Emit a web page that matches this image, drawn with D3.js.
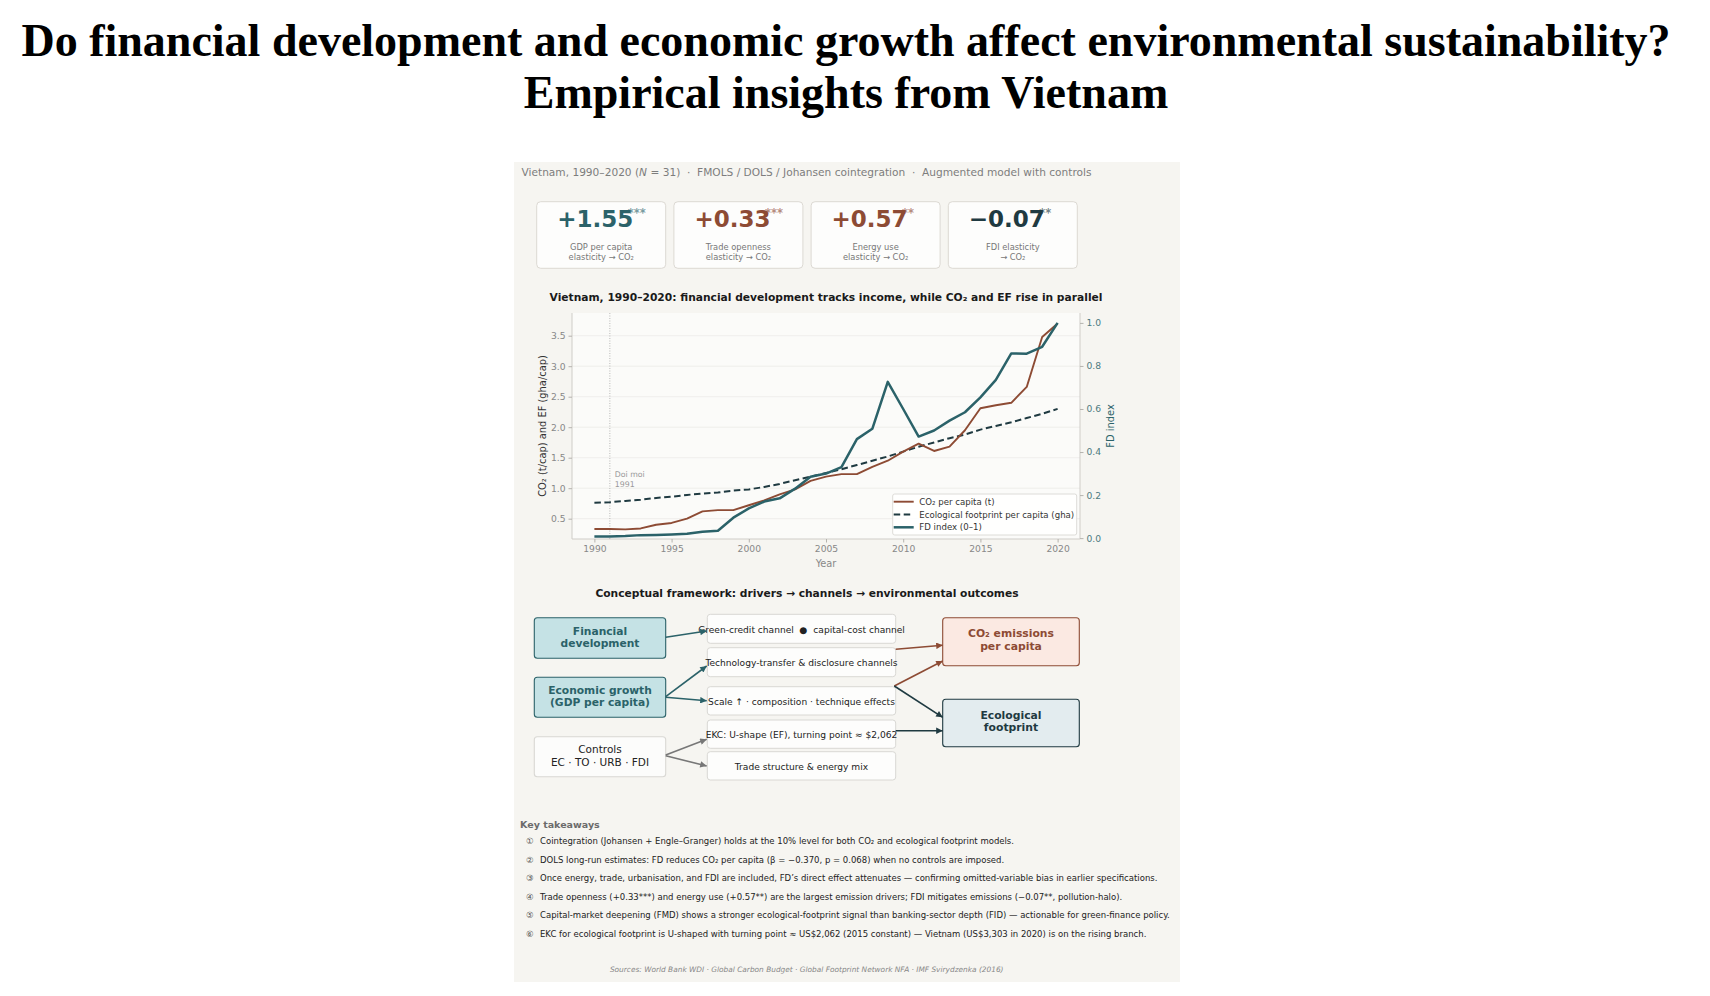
<!DOCTYPE html>
<html>
<head>
  <meta http-equiv="Content-Type" content="text/html; charset=utf-8"/>
  <title>Financial development, growth and environment in Vietnam</title>
  <script src="https://d3js.org/d3.v7.min.js"></script>
  <style>
    html, body { margin: 0; padding: 0; background: #fff; overflow: hidden; }
    svg { display: block; }
    text { font-family: "DejaVu Sans", sans-serif; white-space: pre; }
  </style>
</head>
<body>
<svg id="page"></svg>
<script>

// --- data ---
const years = [1990, 1991, 1992, 1993, 1994, 1995, 1996, 1997, 1998, 1999,
               2000, 2001, 2002, 2003, 2004, 2005, 2006, 2007, 2008, 2009,
               2010, 2011, 2012, 2013, 2014, 2015, 2016, 2017, 2018, 2019, 2020];
const co2 = [0.33, 0.33, 0.325, 0.34, 0.40, 0.43, 0.50, 0.62, 0.64, 0.64,
             0.72, 0.80, 0.90, 0.98, 1.12, 1.19, 1.23, 1.23, 1.35, 1.45,
             1.60, 1.73, 1.61, 1.68, 1.95, 2.31, 2.36, 2.40, 2.66, 3.48, 3.70];
const ef = [0.76, 0.77, 0.79, 0.81, 0.84, 0.86, 0.89, 0.91, 0.93, 0.96,
            0.98, 1.02, 1.07, 1.13, 1.19, 1.25, 1.31, 1.38, 1.45, 1.52,
            1.60, 1.68, 1.75, 1.82, 1.88, 1.96, 2.02, 2.08, 2.15, 2.22, 2.30];
const fdIndex = [0.008, 0.008, 0.010, 0.014, 0.015, 0.017, 0.020, 0.030, 0.034, 0.095,
                 0.138, 0.170, 0.185, 0.230, 0.285, 0.300, 0.330, 0.460, 0.508, 0.726,
                 0.600, 0.472, 0.500, 0.546, 0.585, 0.654, 0.735, 0.858, 0.857, 0.889, 1.000];

const leftTicks = [0.5, 1.0, 1.5, 2.0, 2.5, 3.0, 3.5];
const rightTicks = [0.0, 0.2, 0.4, 0.6, 0.8, 1.0];
const yearTicks = [1990, 1995, 2000, 2005, 2010, 2015, 2020];

const kpiValues = ["+1.55", "+0.33", "+0.57", "\u22120.07"];
const kpiStars = ["***", "***", "**", "**"];
const kpiLabels = [
  ["GDP per capita", "elasticity \u2192 CO\u2082"],
  ["Trade openness", "elasticity \u2192 CO\u2082"],
  ["Energy use", "elasticity \u2192 CO\u2082"],
  ["FDI elasticity", "\u2192 CO\u2082"]
];

const channelLabels = [
  "Green-credit channel  \u25cf  capital-cost channel",
  "Technology-transfer & disclosure channels",
  "Scale \u2191 \u00b7 composition \u00b7 technique effects",
  "EKC: U-shape (EF), turning point \u2248 $2,062",
  "Trade structure & energy mix"
];

const takeaways = [
  "Cointegration (Johansen + Engle\u2013Granger) holds at the 10% level for both CO\u2082 and ecological footprint models.",
  "DOLS long-run estimates: FD reduces CO\u2082 per capita (\u03b2 = \u22120.370, p = 0.068) when no controls are imposed.",
  "Once energy, trade, urbanisation, and FDI are included, FD\u2019s direct effect attenuates \u2014 confirming omitted-variable bias in earlier specifications.",
  "Trade openness (+0.33***) and energy use (+0.57**) are the largest emission drivers; FDI mitigates emissions (\u22120.07**, pollution-halo).",
  "Capital-market deepening (FMD) shows a stronger ecological-footprint signal than banking-sector depth (FID) \u2014 actionable for green-finance policy.",
  "EKC for ecological footprint is U-shaped with turning point \u2248 US$2,062 (2015 constant) \u2014 Vietnam (US$3,303 in 2020) is on the rising branch."
];
const circled = ["\u2460", "\u2461", "\u2462", "\u2463", "\u2464", "\u2465"];

// --- colours ---
const teal = "#2b6269";
const brown = "#8d4b34";
const dark = "#1f3a41";

const svg = d3.select("#page")
    .attr("width", 1710)
    .attr("height", 996);

// page title
const title = svg.append("g")
    .attr("font-weight", "bold")
    .attr("font-size", 46)
    .attr("text-anchor", "middle");
title.append("text").attr("x", 846).attr("y", 56)
    .style("font-family", "'Liberation Serif', serif")
    .text("Do financial development and economic growth affect environmental sustainability?");
title.append("text").attr("x", 846).attr("y", 108)
    .style("font-family", "'Liberation Serif', serif")
    .text("Empirical insights from Vietnam");

// panel
svg.append("rect")
    .attr("x", 514).attr("y", 162)
    .attr("width", 666).attr("height", 820)
    .attr("fill", "#f6f5f1");

// header line
const header = svg.append("text")
    .attr("x", 521.5).attr("y", 175.5)
    .attr("font-size", 10.6)
    .attr("fill", "#7d7d7d");
header.append("tspan").text("Vietnam, 1990\u20132020 (");
header.append("tspan").attr("font-style", "italic").text("N");
header.append("tspan").text(" = 31)  \u00b7  FMOLS / DOLS / Johansen cointegration  \u00b7  Augmented model with controls");

// KPI cards
const kpiColors = [teal, brown, brown, dark];
const cards = svg.append("g").selectAll("g")
    .data(kpiValues)
    .join("g")
    .attr("transform", (d, i) => `translate(${536.7 + i * 137.2},201.7)`);

cards.append("rect")
    .attr("width", 129).attr("height", 66.6)
    .attr("rx", 4)
    .attr("fill", "#fdfdfc")
    .attr("stroke", "#dcd9d3")
    .attr("stroke-width", 1);

// number with its significance stars tucked against the last digit
cards.append("text")
    .attr("y", 25)
    .attr("font-weight", "bold")
    .attr("fill", (d, i) => kpiColors[i])
    .each(function(d, i) {
      const t = d3.select(this);
      const num = t.append("tspan").attr("font-size", 23).text(d);
      const w = num.node().getComputedTextLength();
      const numCenter = 64.5 - 6;
      t.attr("x", numCenter - w / 2);
      t.append("tspan")
          .attr("dx", (64.5 + 26.5) - (numCenter + w / 2))
          .attr("dy", -10)
          .attr("font-size", 11.5)
          .attr("fill-opacity", 0.65)
          .text(kpiStars[i]);
    });

cards.each(function(d, i) {
  const g = d3.select(this);
  kpiLabels[i].forEach((line, j) => {
    g.append("text")
        .attr("x", 64.5).attr("y", 48.5 + j * 10)
        .attr("text-anchor", "middle")
        .attr("font-size", 8.3)
        .attr("fill", "#777")
        .text(line);
  });
});

// --- time series chart ---
const plot = { left: 572, right: 1080, top: 313, bottom: 539 };

const x = d3.scaleLinear()
    .domain([1988.55, 2021.45])
    .range([plot.left, plot.right]);
const yLeft = d3.scaleLinear()
    .domain([0.167, 3.872])
    .range([plot.bottom, plot.top]);
const yRight = d3.scaleLinear()
    .domain([-0.004, 1.046])
    .range([plot.bottom, plot.top]);

svg.append("text")
    .attr("x", (plot.left + plot.right) / 2).attr("y", 300.7)
    .attr("text-anchor", "middle")
    .attr("font-size", 10.7)
    .attr("font-weight", "bold")
    .attr("fill", "#1a1a1a")
    .text("Vietnam, 1990\u20132020: financial development tracks income, while CO\u2082 and EF rise in parallel");

svg.append("rect")
    .attr("x", plot.left).attr("y", plot.top)
    .attr("width", plot.right - plot.left).attr("height", plot.bottom - plot.top)
    .attr("fill", "#fbfbf9");

// gridlines
svg.append("g").selectAll("line")
    .data(leftTicks)
    .join("line")
    .attr("x1", plot.left).attr("x2", plot.right)
    .attr("y1", d => yLeft(d)).attr("y2", d => yLeft(d))
    .attr("stroke", "#ecebe8")
    .attr("stroke-width", 0.8);

// spines
const spine = "#cfcdc8";
svg.append("line").attr("x1", plot.left).attr("x2", plot.left)
    .attr("y1", plot.top).attr("y2", plot.bottom).attr("stroke", spine);
svg.append("line").attr("x1", plot.right).attr("x2", plot.right)
    .attr("y1", plot.top).attr("y2", plot.bottom).attr("stroke", spine);
svg.append("line").attr("x1", plot.left).attr("x2", plot.right)
    .attr("y1", plot.bottom).attr("y2", plot.bottom).attr("stroke", spine);

function styleAxis(g, color) {
  g.select(".domain").remove();
  g.selectAll(".tick line").attr("stroke", "#b5b3ae");
  g.selectAll(".tick text")
      .attr("fill", color)
      .attr("font-size", 9.2)
      .style("font-family", "DejaVu Sans");
}

svg.append("g")
    .attr("transform", `translate(${plot.left},0)`)
    .call(d3.axisLeft(yLeft).tickValues(leftTicks).tickFormat(d3.format(".1f")).tickSize(3.5).tickPadding(3))
    .call(g => styleAxis(g, "#888"));

svg.append("g")
    .attr("transform", `translate(${plot.right},0)`)
    .call(d3.axisRight(yRight).tickValues(rightTicks).tickFormat(d3.format(".1f")).tickSize(3.5).tickPadding(3))
    .call(g => styleAxis(g, "#4d7a80"));

svg.append("g")
    .attr("transform", `translate(0,${plot.bottom})`)
    .call(d3.axisBottom(x).tickValues(yearTicks).tickFormat(d3.format("d")).tickSize(3.5).tickPadding(3))
    .call(g => styleAxis(g, "#888"));

svg.append("text")
    .attr("x", (plot.left + plot.right) / 2).attr("y", 567)
    .attr("text-anchor", "middle")
    .attr("font-size", 9.8)
    .attr("fill", "#888")
    .text("Year");

svg.append("text")
    .attr("transform", `translate(543,${(plot.top + plot.bottom) / 2}) rotate(-90)`)
    .attr("text-anchor", "middle")
    .attr("dy", "0.35em")
    .attr("font-size", 9.9)
    .attr("fill", "#333")
    .text("CO\u2082 (t/cap) and EF (gha/cap)");

svg.append("text")
    .attr("transform", `translate(1111,${(plot.top + plot.bottom) / 2}) rotate(-90)`)
    .attr("text-anchor", "middle")
    .attr("dy", "0.35em")
    .attr("font-size", 9.9)
    .attr("fill", teal)
    .text("FD index");

// Doi moi marker
svg.append("line")
    .attr("x1", x(1991)).attr("x2", x(1991))
    .attr("y1", plot.top).attr("y2", plot.bottom)
    .attr("stroke", "#aaa")
    .attr("stroke-width", 0.8)
    .attr("stroke-dasharray", "1,1.5");
svg.append("text")
    .attr("x", x(1991) + 5).attr("y", yLeft(1.18))
    .attr("font-size", 7.8)
    .attr("fill", "#999")
    .text("Doi moi");
svg.append("text")
    .attr("x", x(1991) + 5).attr("y", yLeft(1.025))
    .attr("font-size", 7.8)
    .attr("fill", "#999")
    .text("1991");

// lines
const idx = d3.range(years.length);
const lineLeft = vals => d3.line().x(i => x(years[i])).y(i => yLeft(vals[i]))(idx);
const lineRight = vals => d3.line().x(i => x(years[i])).y(i => yRight(vals[i]))(idx);

svg.append("path")
    .attr("d", lineLeft(ef))
    .attr("fill", "none")
    .attr("stroke", dark)
    .attr("stroke-width", 2)
    .attr("stroke-dasharray", "6.5,3.5");

svg.append("path")
    .attr("d", lineLeft(co2))
    .attr("fill", "none")
    .attr("stroke", brown)
    .attr("stroke-width", 1.9)
    .attr("stroke-linejoin", "round");

svg.append("path")
    .attr("d", lineRight(fdIndex))
    .attr("fill", "none")
    .attr("stroke", teal)
    .attr("stroke-width", 2.5)
    .attr("stroke-linejoin", "round");

// legend
const legendItems = [
  { label: "CO\u2082 per capita (t)", color: brown, width: 1.9, dash: null },
  { label: "Ecological footprint per capita (gha)", color: dark, width: 2, dash: "6.5,3.5" },
  { label: "FD index (0\u20131)", color: teal, width: 2.5, dash: null }
];
const legend = svg.append("g").attr("transform", "translate(892.7,494)");
legend.append("rect")
    .attr("width", 184).attr("height", 41)
    .attr("rx", 2)
    .attr("fill", "#ffffff")
    .attr("fill-opacity", 0.85)
    .attr("stroke", "#dddcd8");
legendItems.forEach((d, i) => {
  const yy = 7.7 + i * 12.8;
  legend.append("line")
      .attr("x1", 1).attr("x2", 21)
      .attr("y1", yy).attr("y2", yy)
      .attr("stroke", d.color)
      .attr("stroke-width", d.width)
      .attr("stroke-dasharray", d.dash);
  legend.append("text")
      .attr("x", 26.6).attr("y", yy)
      .attr("dy", "0.35em")
      .attr("font-size", 8.6)
      .attr("fill", "#333")
      .text(d.label);
});

// --- conceptual framework ---
svg.append("text")
    .attr("x", 807).attr("y", 596.7)
    .attr("text-anchor", "middle")
    .attr("font-size", 10.7)
    .attr("font-weight", "bold")
    .attr("fill", "#1a1a1a")
    .text("Conceptual framework: drivers \u2192 channels \u2192 environmental outcomes");

const defs = svg.append("defs");
[["arTeal", teal], ["arBrown", brown], ["arDark", dark], ["arGrey", "#777"]].forEach(([id, c]) => {
  defs.append("marker")
      .attr("id", id)
      .attr("viewBox", "0 0 10 10")
      .attr("refX", 10).attr("refY", 5)
      .attr("markerWidth", 8).attr("markerHeight", 6.5)
      .attr("markerUnits", "userSpaceOnUse")
      .attr("orient", "auto")
    .append("path")
      .attr("d", "M0,0 L10,5 L0,10 z")
      .attr("fill", c);
});

function box(x0, y0, w, h, fill, stroke, sw) {
  svg.append("rect")
      .attr("x", x0).attr("y", y0)
      .attr("width", w).attr("height", h)
      .attr("rx", 3)
      .attr("fill", fill)
      .attr("stroke", stroke)
      .attr("stroke-width", sw);
}
function label(lines, cx, cy, size, weight, color, gap) {
  const t = svg.append("text")
      .attr("text-anchor", "middle")
      .attr("font-size", size)
      .attr("font-weight", weight)
      .attr("fill", color);
  lines.forEach((l, i) => {
    t.append("tspan")
        .attr("x", cx)
        .attr("y", cy + (i - (lines.length - 1) / 2) * gap)
        .attr("dy", "0.36em")
        .text(l);
  });
}

const drv = { x: 534.3, w: 131.4 };
const drivers = [
  { lines: ["Financial", "development"], y: 617.7, h: 40.6, fill: "#c5e2e5", stroke: teal, color: teal, weight: "bold", size: 10.7 },
  { lines: ["Economic growth", "(GDP per capita)"], y: 677.3, h: 40, fill: "#c5e2e5", stroke: teal, color: teal, weight: "bold", size: 10.7 },
  { lines: ["Controls", "EC \u00b7 TO \u00b7 URB \u00b7 FDI"], y: 736.7, h: 40, fill: "#fcfcfb", stroke: "#d9d8d4", color: "#222", weight: "normal", size: 10.5 }
];
drivers.forEach(d => {
  box(drv.x, d.y, drv.w, d.h, d.fill, d.stroke, 1.1);
  label(d.lines, drv.x + drv.w / 2, d.y + d.h / 2 - 1, d.size, d.weight, d.color, 12.6);
});

const ch = { x: 707.3, w: 188.4 };
const channelY = [[614.3, 29], [647.7, 29], [686.7, 28.3], [720, 28.3], [751.7, 28.3]];
channelLabels.forEach((l, i) => {
  box(ch.x, channelY[i][0], ch.w, channelY[i][1], "#fdfdfc", "#d9d8d4", 1);
  label([l], ch.x + ch.w / 2, channelY[i][0] + channelY[i][1] / 2 + 0.5, 9.1, "normal", "#222", 0);
});

const out = { x: 942.7, w: 136.6 };
const outcomes = [
  { lines: ["CO\u2082 emissions", "per capita"], y: 617.7, h: 48, fill: "#fbe9e2", stroke: brown, color: brown },
  { lines: ["Ecological", "footprint"], y: 699.3, h: 47.4, fill: "#e3ecef", stroke: dark, color: dark }
];
outcomes.forEach(d => {
  box(out.x, d.y, out.w, d.h, d.fill, d.stroke, 1.1);
  label(d.lines, out.x + out.w / 2, d.y + d.h / 2 - 2, 10.8, "bold", d.color, 12.4);
});

const drvR = drv.x + drv.w, chL = ch.x - 0.6, chR = ch.x + ch.w, outL = out.x;
const links = [
  [drvR, 637.3, chL, 631, "arTeal", teal],
  [drvR, 696.7, chL, 666, "arTeal", teal],
  [drvR, 697.3, chL, 700.7, "arTeal", teal],
  [drvR, 755, chL, 739.3, "arGrey", "#777"],
  [drvR, 755.7, chL, 766, "arGrey", "#777"],
  [chR, 649.3, outL, 645.3, "arBrown", brown],
  [chR - 1.4, 686, outL, 661, "arBrown", brown],
  [chR - 1.4, 686, outL, 717.3, "arDark", dark],
  [chR, 730.7, outL, 730.7, "arDark", dark]
];
svg.append("g").selectAll("line")
    .data(links)
    .join("line")
    .attr("x1", d => d[0]).attr("y1", d => d[1])
    .attr("x2", d => d[2]).attr("y2", d => d[3])
    .attr("stroke", d => d[5])
    .attr("stroke-width", 1.6)
    .attr("marker-end", d => `url(#${d[4]})`);

// --- key takeaways ---
svg.append("text")
    .attr("x", 520).attr("y", 828.3)
    .attr("font-size", 9.5)
    .attr("font-weight", "bold")
    .attr("fill", "#6b6b6b")
    .text("Key takeaways");

takeaways.forEach((t, i) => {
  const yy = 844 + i * 18.5;
  svg.append("text")
      .attr("x", 526).attr("y", yy)
      .attr("font-size", 8.5)
      .attr("fill", "#555")
      .text(circled[i]);
  svg.append("text")
      .attr("x", 540).attr("y", yy)
      .attr("font-size", 8.5)
      .attr("fill", "#222")
      .text(t);
});

svg.append("text")
    .attr("x", 806.7).attr("y", 972.3)
    .attr("text-anchor", "middle")
    .attr("font-size", 7.4)
    .attr("font-style", "italic")
    .attr("fill", "#888")
    .text("Sources: World Bank WDI \u00b7 Global Carbon Budget \u00b7 Global Footprint Network NFA \u00b7 IMF Svirydzenka (2016)");

</script>
</body>
</html>
